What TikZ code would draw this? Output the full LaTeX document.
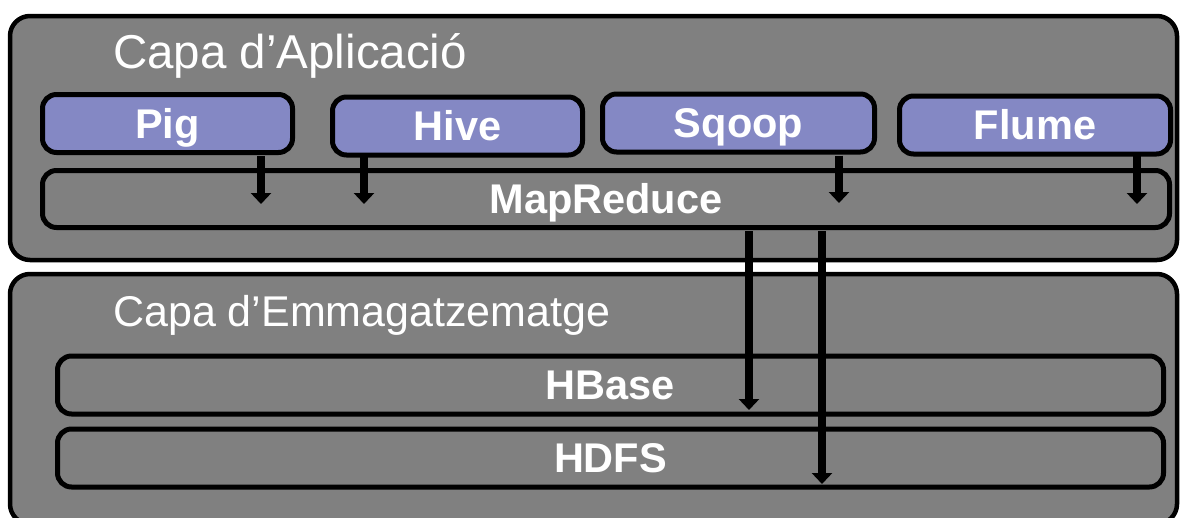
\documentclass[tikz,border=0pt]{standalone}
\usepackage{fontspec}
\setmainfont{Liberation Sans}
\usetikzlibrary{arrows.meta,calc}
\definecolor{layergray}{RGB}{128,128,128}
\definecolor{toolblue}{RGB}{132,136,196}
\tikzset{
  layer/.style={draw=black, line width=4.5pt, fill=layergray, rounded corners=20pt,
    minimum width=1167pt, inner sep=0pt},
  tool/.style={draw=black, line width=5pt, fill=toolblue, rounded corners=14pt,
    minimum height=58pt, inner sep=0pt, text=white,
    font=\bfseries\fontsize{41.5}{48}\selectfont, text height=29.7pt, text depth=0pt},
  band/.style={tool, fill=none},
  title/.style={anchor=base west, inner sep=0pt, text=white},
  flow/.style={line width=8pt, -{Triangle[width=20pt,length=11pt]}}
}
\begin{document}
\begin{tikzpicture}[x=1pt,y=-1pt]
\useasboundingbox (0,0) rectangle (1180,517);
\fill[white] (0,0) rectangle (1180,517);

% the two layers
\node[layer, minimum height=244pt] (app) at (593.5,138) {};
\node[layer, minimum height=250pt] (store) at (593.5,399) {};
\node[title, font=\fontsize{47.5}{54}\selectfont] (appt) at (113,68) {Capa d’Aplicació};
\node[title, font=\fontsize{43}{50}\selectfont] (storet) at (113,326) {Capa d’Emmagatzematge};

% application tools
\node[tool, minimum width=250pt] (pig) at (167.5,123.5) {Pig};
\node[tool, minimum width=250pt] (hive) at (457.5,126) {Hive};
\node[tool, minimum width=272pt] (sqoop) at (738.5,123) {Sqoop};
\node[tool, minimum width=271pt] (flume) at (1035,125) {Flume};

% processing and storage bands
\node[band, minimum width=1127pt, minimum height=57pt] (mr) at (606,199) {MapReduce};
\node[band, minimum width=1106pt] (hbase) at (610.5,385) {HBase};
\node[band, minimum width=1106pt] (hdfs) at (610.5,458) {HDFS};

% data flow
\draw[flow] ($(261,0 |- pig.south)+(0,1)$) -- ($(261,0 |- mr.center)+(0,5)$);
\draw[flow] ($(364,0 |- hive.south)+(0,-3)$) -- ($(364,0 |- mr.center)+(0,5)$);
\draw[flow] ($(839,0 |- sqoop.south)+(0,1)$) -- ($(839,0 |- mr.center)+(0,4)$);
\draw[flow] ($(1137,0 |- flume.south)+(0,-3)$) -- ($(1137,0 |- mr.center)+(0,5)$);
\draw[flow] ($(749,0 |- mr.south)+(0,1)$) -- ($(749,0 |- hbase.center)+(0,25)$);
\draw[flow] ($(822,0 |- mr.south)+(0,1)$) -- ($(822,0 |- hdfs.center)+(0,26)$);
\end{tikzpicture}
\end{document}
